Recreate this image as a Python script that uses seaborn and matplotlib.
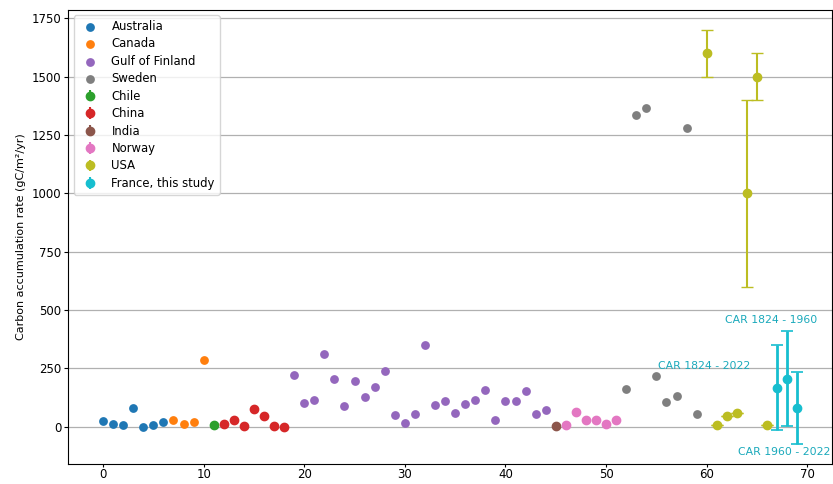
import seaborn as sns
import pandas as pd
import numpy as np
from matplotlib import pyplot as plt

# scatter groups (plain markers in the legend)
aus_x = [0, 1, 2, 3, 4, 5, 6]
aus_y = [23, 10, 6, 81, 0, 6, 20]
can_x = [7, 8, 9, 10]
can_y = [29, 13, 21, 286]
gof_x = list(range(19, 45))
gof_y = [222, 102, 114, 313, 206, 88, 196, 125, 171, 238, 48, 14, 54, 350,
         93, 111, 60, 95, 114, 157, 29, 108, 108, 151, 53, 71]
swe_x = [52, 53, 54, 55, 56, 57, 58, 59]
swe_y = [161, 1334, 1364, 215, 104, 131, 1279, 54]

# errorbar groups
chile_x = [11]
chile_y = [6]
china_x = [12, 13, 14, 15, 16, 17, 18]
china_y = [10, 26, 3, 77, 45, 3, 0]
india_x = [45]
india_y = [3]
nor_x = [46, 47, 48, 49, 50, 51]
nor_y = [8, 63, 27, 28, 10, 27]
usa_x = [60, 61, 62, 63, 64, 65, 66]
usa_y = [1600, 5, 44, 58, 1000, 1500, 6]
usa_err = [100, 0, 0, 0, 400, 100, 0]
fra_x = [67, 68, 69]
fra_y = [165, 206, 80]
fra_lo = [178, 205, 154]
fra_hi = [185, 205, 152]
fra_labels = ['CAR 1824 - 2022', 'CAR 1824 - 1960', 'CAR 1960 - 2022']

pal = sns.color_palette('tab10')

fig = plt.figure(figsize=(8.33, 4.84), dpi=100)
ax = fig.add_axes([68.3 / 833, 20.5 / 484, (832 - 68.3) / 833, (463.5 - 9.5) / 484])

scat = pd.concat([
    pd.DataFrame({'x': aus_x, 'y': aus_y, 'site': 'Australia'}),
    pd.DataFrame({'x': can_x, 'y': can_y, 'site': 'Canada'}),
    pd.DataFrame({'x': gof_x, 'y': gof_y, 'site': 'Gulf of Finland'}),
    pd.DataFrame({'x': swe_x, 'y': swe_y, 'site': 'Sweden'}),
])
for name, col in [('Australia', pal[0]), ('Canada', pal[1]),
                  ('Gulf of Finland', pal[4]), ('Sweden', pal[7])]:
    sub = scat[scat['site'] == name]
    sns.scatterplot(x='x', y='y', data=sub, color=col, s=40, linewidth=0,
                    label=name, ax=ax, zorder=3)

for xs, ys, col, name in [(chile_x, chile_y, pal[2], 'Chile'),
                          (china_x, china_y, pal[3], 'China'),
                          (india_x, india_y, pal[5], 'India'),
                          (nor_x, nor_y, pal[6], 'Norway'),
                          (usa_x, usa_y, pal[8], 'USA'),
                          (fra_x, fra_y, pal[9], 'France, this study')]:
    ax.errorbar(xs, ys, yerr=np.zeros(len(xs)), fmt='o', color=col, ms=6,
                label=name, zorder=3)

# the real error bars (kept out of the legend)
ax.errorbar(usa_x, usa_y, yerr=usa_err, fmt='none', ecolor=pal[8],
            elinewidth=1.5, capsize=4, zorder=2)
ax.errorbar(fra_x, fra_y, yerr=[fra_lo, fra_hi], fmt='none', ecolor=pal[9],
            elinewidth=2, capsize=4, capthick=1.2, zorder=2)

txt_col = '#1aa9bb'
ax.text(59.7, 260, fra_labels[0], color=txt_col, fontsize=7.8, ha='center', va='center')
ax.text(66.4, 457, fra_labels[1], color=txt_col, fontsize=7.8, ha='center', va='center')
ax.text(67.7, -111, fra_labels[2], color=txt_col, fontsize=7.8, ha='center', va='center')

ax.set_xlim(-3.45, 72.45)
ax.set_ylim(-158.5, 1788.5)
ax.set_yticks([0, 250, 500, 750, 1000, 1250, 1500, 1750])
ax.set_xticks([0, 10, 20, 30, 40, 50, 60, 70])
ax.grid(axis='y', color='#b0b0b0', linewidth=0.9)
ax.set_axisbelow(True)
ax.set_xlabel('')
ax.set_ylabel('Carbon accumulation rate (gC/m²/yr)', fontsize=8, labelpad=4)
ax.tick_params(labelsize=8.5, length=3, pad=2)
ax.tick_params(axis='x', length=2.5, pad=1)
ax.legend(loc='upper left', fontsize=8.4, labelspacing=0.38)

fig.savefig('out.png', dpi=100)
